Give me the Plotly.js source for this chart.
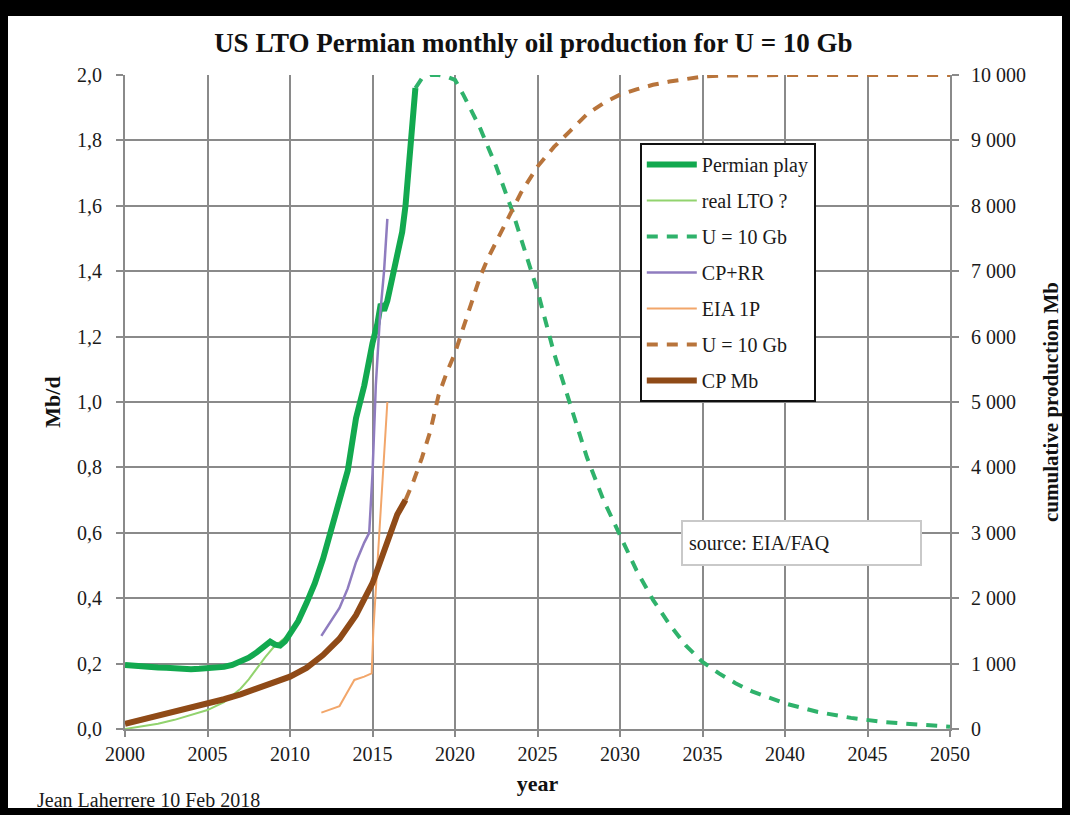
<!DOCTYPE html>
<html>
<head>
<meta charset="utf-8">
<script src="https://cdn.plot.ly/plotly-3.0.1.min.js"></script>
<style>
  html, body { margin: 0; padding: 0; background: #000; width: 1070px; height: 815px; overflow: hidden; }
  #frame { position: absolute; left: 8px; top: 16px; width: 1054px; height: 792px; background: #fff; }
  #chart { position: absolute; left: 0; top: 0; width: 1070px; height: 815px; }
</style>
</head>
<body>
<div id="frame"></div>
<div id="chart"></div>
<script>
// ---- data ----
const permianYears = [2000, 2000.5, 2001, 2001.5, 2002, 2002.5, 2003, 2003.5, 2004, 2004.5, 2005, 2005.5, 2006, 2006.5, 2007, 2007.5, 2008, 2008.4, 2008.8, 2009.1, 2009.4, 2009.7, 2010, 2010.5, 2011, 2011.5, 2012, 2012.5, 2013, 2013.5, 2014, 2014.5, 2015, 2015.3, 2015.5, 2015.7, 2015.9, 2016.2, 2016.5, 2016.8, 2017, 2017.2, 2017.4, 2017.6];
const permianVals  = [0.196, 0.193, 0.191, 0.190, 0.188, 0.187, 0.185, 0.184, 0.183, 0.184, 0.185, 0.187, 0.190, 0.196, 0.205, 0.218, 0.235, 0.250, 0.267, 0.258, 0.255, 0.268, 0.290, 0.330, 0.385, 0.445, 0.52, 0.61, 0.70, 0.79, 0.95, 1.05, 1.18, 1.24, 1.30, 1.28, 1.31, 1.38, 1.44, 1.52, 1.60, 1.71, 1.84, 1.96];

const realLtoYears = [2000, 2001, 2002, 2003, 2004, 2005, 2006, 2007, 2007.5, 2008, 2008.5, 2009, 2009.5, 2010.2];
const realLtoVals  = [0.0, 0.008, 0.016, 0.028, 0.042, 0.058, 0.082, 0.123, 0.152, 0.186, 0.22, 0.25, 0.272, 0.30];

const forecastYears = [2017.6, 2018, 2018.5, 2019, 2019.5, 2020, 2020.5, 2021, 2021.5, 2022, 2022.5, 2023, 2023.5, 2024, 2024.5, 2025, 2026, 2027, 2028, 2029, 2030, 2031, 2032, 2033, 2034, 2035, 2036, 2037, 2038, 2039, 2040, 2042, 2044, 2046, 2048, 2050];
const forecastVals  = [1.96, 1.99, 2.0, 2.0, 1.995, 1.985, 1.94, 1.89, 1.84, 1.78, 1.72, 1.65, 1.58, 1.50, 1.42, 1.34, 1.15, 0.985, 0.83, 0.70, 0.59, 0.485, 0.395, 0.32, 0.255, 0.205, 0.17, 0.14, 0.115, 0.095, 0.078, 0.052, 0.034, 0.021, 0.013, 0.007];

const cpRrYears = [2011.9, 2012.5, 2013, 2013.5, 2014, 2014.5, 2014.8, 2015.0, 2015.2, 2015.45, 2015.7, 2015.9];
const cpRrVals  = [0.285, 0.33, 0.37, 0.43, 0.51, 0.57, 0.60, 0.78, 1.05, 1.26, 1.40, 1.56];

const eia1pYears = [2011.9, 2012.5, 2013, 2013.5, 2013.9, 2014.5, 2014.95, 2015.05, 2015.9];
const eia1pVals  = [0.05, 0.06, 0.07, 0.115, 0.15, 0.16, 0.17, 0.30, 1.0];

const cumForecastYears = [2017, 2017.5, 2018, 2018.5, 2019, 2019.5, 2020, 2020.5, 2021, 2021.5, 2022, 2022.5, 2023, 2023.5, 2024, 2025, 2026, 2027, 2028, 2029, 2030, 2031, 2032, 2033, 2034, 2035, 2036, 2038, 2040, 2045, 2050];
const cumForecastVals  = [3500, 3800, 4150, 4550, 5100, 5450, 5750, 6150, 6550, 6900, 7200, 7450, 7700, 7950, 8200, 8600, 8900, 9150, 9400, 9570, 9700, 9780, 9850, 9900, 9945, 9975, 9990, 10000, 10000, 10000, 10000];

const cpMbYears = [2000, 2001, 2002, 2003, 2004, 2005, 2006, 2007, 2008, 2009, 2010, 2011, 2012, 2013, 2014, 2015, 2015.5, 2016, 2016.5, 2017];
const cpMbVals  = [80, 140, 200, 260, 320, 385, 455, 530, 615, 705, 800, 935, 1130, 1380, 1740, 2230, 2600, 2950, 3280, 3500];

const seriesNames = ['Permian play', 'real LTO ?', 'U = 10 Gb', 'CP+RR', 'EIA 1P', 'U = 10 Gb', 'CP Mb'];

const xTickVals = [2000, 2005, 2010, 2015, 2020, 2025, 2030, 2035, 2040, 2045, 2050];
const xTickText = ['2000', '2005', '2010', '2015', '2020', '2025', '2030', '2035', '2040', '2045', '2050'];
const yTickVals = [0, 0.2, 0.4, 0.6, 0.8, 1.0, 1.2, 1.4, 1.6, 1.8, 2.0];
const yTickText = ['0,0', '0,2', '0,4', '0,6', '0,8', '1,0', '1,2', '1,4', '1,6', '1,8', '2,0'];
const y2TickVals = [0, 1000, 2000, 3000, 4000, 5000, 6000, 7000, 8000, 9000, 10000];
const y2TickText = ['0', '1 000', '2 000', '3 000', '4 000', '5 000', '6 000', '7 000', '8 000', '9 000', '10 000'];

const FONT = 'Liberation Serif, Times New Roman, serif';
const GRID = '#8a8a8a';

const traces = [
  { x: realLtoYears, y: realLtoVals, name: seriesNames[1], legendrank: 2, legendgroup: 'g2',
    mode: 'lines', line: { color: '#92d36e', width: 2 } },
  { x: permianYears, y: permianVals, name: seriesNames[0], legendrank: 1, legendgroup: 'g1',
    mode: 'lines', line: { color: '#12a94f', width: 6 } },
  { x: forecastYears, y: forecastVals, name: seriesNames[2], legendrank: 3, legendgroup: 'g3',
    mode: 'lines', line: { color: '#2fb26b', width: 4, dash: '11px,9px' } },
  { x: cumForecastYears, y: cumForecastVals, name: seriesNames[5], legendrank: 6, legendgroup: 'g6', yaxis: 'y2',
    mode: 'lines', line: { color: '#b8743b', width: 4, dash: '11px,9px' } },
  { x: cpMbYears, y: cpMbVals, name: seriesNames[6], legendrank: 7, legendgroup: 'g7', yaxis: 'y2',
    mode: 'lines', line: { color: '#8f4a17', width: 6 } },
  { x: cpRrYears, y: cpRrVals, name: seriesNames[3], legendrank: 4, legendgroup: 'g4',
    mode: 'lines', line: { color: '#8f7cbf', width: 2.5 } },
  { x: eia1pYears, y: eia1pVals, name: seriesNames[4], legendrank: 5, legendgroup: 'g5',
    mode: 'lines', line: { color: '#f2a66a', width: 2 } }
];

const layout = {
  width: 1070, height: 815,
  margin: { l: 125, r: 120, t: 75, b: 86 },
  paper_bgcolor: 'rgba(0,0,0,0)',
  plot_bgcolor: '#ffffff',
  font: { family: FONT, color: '#1a1a1a', size: 20 },
  showlegend: true,
  title: { text: '<b>US LTO Permian monthly oil production for U = 10 Gb</b>',
           font: { family: FONT, size: 27, color: '#111' },
           x: 0.495, xanchor: 'center', xref: 'paper', y: 0.948, yanchor: 'middle', yref: 'container' },
  xaxis: {
    range: [2000, 2050], tickvals: xTickVals, ticktext: xTickText,
    showgrid: true, gridcolor: GRID, gridwidth: 2,
    showline: true, linecolor: GRID, linewidth: 2,
    ticks: 'outside', ticklen: 6, tickwidth: 2, tickcolor: GRID, ticklabelstandoff: 0,
    tickfont: { family: FONT, size: 20, color: '#1a1a1a' },
    zeroline: false, automargin: false,
    title: { text: '<b>year</b>', font: { family: FONT, size: 22, color: '#111' }, standoff: 12 }
  },
  yaxis: {
    range: [0, 2.0], tickvals: yTickVals, ticktext: yTickText,
    showgrid: true, gridcolor: GRID, gridwidth: 2,
    showline: true, linecolor: GRID, linewidth: 2,
    ticks: 'outside', ticklen: 7, tickwidth: 2, tickcolor: GRID, ticklabelstandoff: 10,
    tickfont: { family: FONT, size: 20, color: '#1a1a1a' },
    zeroline: false, automargin: false,
    title: { text: '<b>Mb/d</b>', font: { family: FONT, size: 22, color: '#111' }, standoff: 10 }
  },
  yaxis2: {
    range: [0, 10000], tickvals: y2TickVals, ticktext: y2TickText,
    overlaying: 'y', side: 'right', showgrid: false,
    showline: true, linecolor: GRID, linewidth: 2,
    ticks: 'outside', ticklen: 7, tickwidth: 2, tickcolor: GRID, ticklabelstandoff: 8,
    tickfont: { family: FONT, size: 20, color: '#1a1a1a' },
    zeroline: false, automargin: false,
    title: { text: '<b>cumulative production Mb</b>', font: { family: FONT, size: 21, color: '#111' }, standoff: 18 }
  },
  legend: {
    x: 0.624, y: 0.896, xanchor: 'left', yanchor: 'top',
    bgcolor: '#ffffff', bordercolor: '#111', borderwidth: 2,
    font: { family: FONT, size: 20, color: '#1a1a1a' },
    traceorder: 'grouped', tracegroupgap: 7, itemwidth: 50
  },
  annotations: [
    { text: 'source: EIA/FAQ', xref: 'paper', yref: 'paper', x: 0.8206, y: 0.2844,
      xanchor: 'center', yanchor: 'middle', showarrow: false, align: 'left',
      width: 225, height: 30, borderpad: 6, bgcolor: '#ffffff', bordercolor: '#c9c9c9', borderwidth: 2,
      font: { family: FONT, size: 20, color: '#1a1a1a' } },
    { text: 'Jean Laherrere 10 Feb 2018', xref: 'paper', yref: 'paper', x: -0.109, y: -0.1086,
      xanchor: 'left', yanchor: 'middle', showarrow: false,
      font: { family: FONT, size: 20, color: '#1a1a1a' } }
  ]
};

Plotly.newPlot('chart', traces, layout, { displayModeBar: false, staticPlot: true });
</script>
</body>
</html>
